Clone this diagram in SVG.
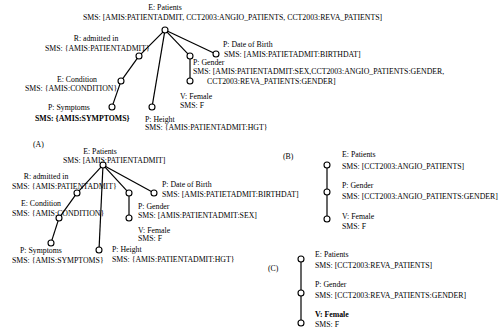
<svg xmlns="http://www.w3.org/2000/svg" width="499" height="329" viewBox="0 0 499 329">
<style>
text{font-family:"Liberation Serif","Times New Roman",serif;font-size:7.8px;fill:#000}
.b{font-weight:bold}
.m{text-anchor:middle}
.e line{stroke:#000;stroke-width:1.2}
circle{fill:none;stroke:#000;stroke-width:1.1}
</style>
<rect width="499" height="329" fill="#fff"/>

<!-- Diagram top -->
<g class="e" id="edges-top">
<line x1="162.88" y1="32.12" x2="141.12" y2="53.88"/>
<line x1="137.25" y1="58.43" x2="122.75" y2="78.57"/>
<line x1="120.02" y1="83.84" x2="112.98" y2="104.16"/>
<line x1="164.5" y1="32.96" x2="152.5" y2="104.04"/>
<line x1="167.08" y1="32.16" x2="187.92" y2="53.84"/>
<line x1="167.71" y1="31.28" x2="213.29" y2="52.72"/>
<line x1="190" y1="59" x2="190" y2="78"/>
</g>
<g id="t-patients"><circle cx="165" cy="30" r="3"/><text class="m" x="165" y="10">E: Patients</text><text x="83" y="20">SMS: [AMIS:PATIENTADMIT, CCT2003:ANGIO_PATIENTS, CCT2003:REVA_PATIENTS]</text></g>
<g id="t-admitted"><circle cx="139" cy="56" r="3"/><text class="m" x="96" y="41">R: admitted in</text><text x="45" y="51">SMS: {AMIS:PATIENTADMIT}</text></g>
<g id="t-dob"><circle cx="216" cy="54" r="3"/><text x="223" y="47">P: Date of Birth</text><text x="224" y="57">SMS: [AMIS:PATIETADMIT:BIRTHDAT]</text></g>
<g id="t-gender"><circle cx="190" cy="56" r="3"/><text x="193" y="65">P: Gender</text><text x="193" y="74">SMS: [AMIS:PATIENTADMIT:SEX,CCT2003:ANGIO_PATIENTS:GENDER,</text><text x="207" y="84">CCT2003:REVA_PATIENTS:GENDER]</text></g>
<g id="t-condition"><circle cx="121" cy="81" r="3"/><text class="m" x="77" y="82">E: Condition</text><text x="25" y="91">SMS: {AMIS:CONDITION}</text></g>
<g id="t-female"><circle cx="190" cy="81" r="3"/><text x="180" y="99">V: Female</text><text x="180" y="108">SMS: F</text></g>
<g id="t-symptoms"><circle cx="112" cy="107" r="3"/><text x="48" y="110">P: Symptoms</text><text class="b" x="35" y="121">SMS: {AMIS:SYMPTOMS}</text></g>
<g id="t-height"><circle cx="152" cy="107" r="3"/><text x="145" y="122">P: Height</text><text x="145" y="130">SMS: {AMIS:PATIENTADMIT:HGT}</text></g>

<!-- Diagram A -->
<text x="33" y="147">(A)</text>
<g class="e" id="edges-a">
<line x1="100.96" y1="167.2" x2="79.04" y2="190.8"/>
<line x1="75.25" y1="195.43" x2="60.75" y2="215.57"/>
<line x1="58.09" y1="220.86" x2="51.91" y2="240.14"/>
<line x1="102.86" y1="168" x2="99.14" y2="247"/>
<line x1="105.04" y1="167.2" x2="126.96" y2="190.8"/>
<line x1="105.63" y1="166.44" x2="151.37" y2="191.56"/>
<line x1="129" y1="196" x2="129" y2="215"/>
</g>
<g id="a-patients"><circle cx="103" cy="165" r="3"/><text class="m" x="100" y="154">E: Patients</text><text x="63" y="163">SMS: [AMIS:PATIENTADMIT]</text></g>
<g id="a-admitted"><circle cx="77" cy="193" r="3"/><text class="m" x="46" y="179">R: admitted in</text><text x="12" y="189">SMS: {AMIS:PATIENTADMIT}</text></g>
<g id="a-dob"><circle cx="154" cy="193" r="3"/><text x="162" y="187">P: Date of Birth</text><text x="162" y="197">SMS: [AMIS:PATIETADMIT:BIRTHDAT]</text></g>
<g id="a-gender"><circle cx="129" cy="193" r="3"/><text x="138" y="209">P: Gender</text><text x="138" y="218">SMS: [AMIS:PATIENTADMIT:SEX]</text></g>
<g id="a-condition"><circle cx="59" cy="218" r="3"/><text class="m" x="41" y="206">E: Condition</text><text x="12" y="216">SMS: {AMIS:CONDITION}</text></g>
<g id="a-female"><circle cx="129" cy="218" r="3"/><text x="138" y="233">V: Female</text><text x="138" y="241">SMS: F</text></g>
<g id="a-symptoms"><circle cx="51" cy="243" r="3"/><text x="20" y="253">P: Symptoms</text><text x="12" y="263">SMS: {AMIS:SYMPTOMS}</text></g>
<g id="a-height"><circle cx="99" cy="250" r="3"/><text x="112" y="252">P: Height</text><text x="112" y="262">SMS: {AMIS:PATIENTADMIT:HGT}</text></g>

<!-- Diagram B -->
<text x="283" y="159">(B)</text>
<g class="e" id="edges-b">
<line x1="327" y1="168" x2="327" y2="189"/>
<line x1="327" y1="195" x2="327" y2="216"/>
</g>
<g id="b-patients"><circle cx="327" cy="165" r="3"/><text x="342" y="157">E: Patients</text><text x="342" y="169">SMS: [CCT2003:ANGIO_PATIENTS]</text></g>
<g id="b-gender"><circle cx="327" cy="192" r="3"/><text x="342" y="188">P: Gender</text><text x="342" y="199">SMS: [CCT2003:ANGIO_PATIENTS:GENDER]</text></g>
<g id="b-female"><circle cx="327" cy="219" r="3"/><text x="342" y="219">V: Female</text><text x="342" y="229">SMS: F</text></g>

<!-- Diagram C -->
<text x="268" y="271">(C)</text>
<g class="e" id="edges-c">
<line x1="301" y1="262" x2="301" y2="290"/>
<line x1="301" y1="296" x2="301" y2="320"/>
</g>
<g id="c-patients"><circle cx="301" cy="259" r="3"/><text x="315" y="257">E: Patients</text><text x="315" y="268">SMS: [CCT2003:REVA_PATIENTS]</text></g>
<g id="c-gender"><circle cx="301" cy="293" r="3"/><text x="315" y="287">P: Gender</text><text x="315" y="298">SMS: [CCT2003:REVA_PATIENTS:GENDER]</text></g>
<g id="c-female"><circle cx="301" cy="323" r="3"/><text class="b" x="315" y="317">V: Female</text><text x="315" y="327">SMS: F</text></g>
</svg>
